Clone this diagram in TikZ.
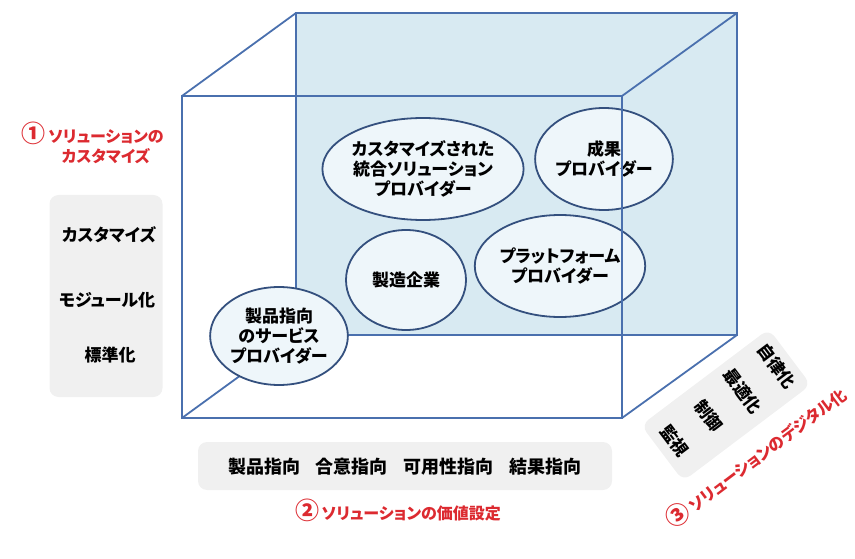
\documentclass[tikz,border=0pt]{standalone}
\usepackage{fontspec}
\newfontfamily\jpfont{Noto Sans CJK JP}[RawFeature=+palt, BoldFont={Noto Sans CJK JP Black}]
\usetikzlibrary{shapes.geometric}
\definecolor{boxline}{HTML}{4A70AE}
\definecolor{backblue}{HTML}{D8EAF2}
\definecolor{rolering}{HTML}{34507E}
\definecolor{rolefill}{HTML}{EEF6FA}
\definecolor{panelgray}{HTML}{F0F0F0}
\definecolor{headred}{HTML}{DC2A30}
\newcommand{\circnum}[1]{{\fontsize{24}{24}\selectfont #1}}

\begin{document}
\begin{tikzpicture}[x=1pt, y=-1pt,
		every node/.style={font=\jpfont\bfseries\fontsize{17}{20}\selectfont, align=center, inner sep=0pt},
		edge/.style={draw=boxline, line width=1.8pt},
		role/.style={ellipse, draw=rolering, line width=1.8pt, fill=rolefill},
		panel/.style={fill=panelgray, rounded corners=9pt},
		heading/.style={text=headred, font=\jpfont\bfseries\fontsize{16}{20}\selectfont}]
		\useasboundingbox (0,0) rectangle (855,559);
		\fill[backblue] (296,13) rectangle (737,335);
		\draw[edge] (296,13) rectangle (737,335);
		\draw[edge] (182,96) -- (296,13) (622,96) -- (737,13) (182,418) -- (296,335) (622,418) -- (737,335);
		\node[role, minimum width=160, minimum height=102] (custom) at (423,169) {カスタマイズされた\\統合ソリューション\\プロバイダー};
		\node[role, minimum width=120, minimum height=102] (outcome) at (604,159) {成果\\プロバイダー};
		\node[role, minimum width=120, minimum height=100] (maker) at (406,280) {製造企業};
		\node[role, minimum width=134, minimum height=102] (platform) at (560,266) {プラットフォーム\\プロバイダー};
		\node[role, minimum width=114, minimum height=98] (service) at (279,336) {製品指向\\のサービス\\プロバイダー};
		\draw[edge] (182,96) rectangle (622,418);
		\node[panel, minimum width=113, minimum height=202] (custpanel) at (106,296) {};
		\node (custlvl3) at (109,235) {カスタマイズ};
		\node (custlvl2) at (107,300) {モジュール化};
		\node (custlvl1) at (110,355) {標準化};
		\node[heading] (axis1) at (106,143) {\llap{\circnum{①}\,}ソリューションの\\カスタマイズ};
		\node[panel, minimum width=414, minimum height=48] (valpanel) at (405,466) {};
		\node[font=\jpfont\bfseries\fontsize{18}{20}\selectfont] (vallvl) at (405,467) {製品指向\hspace{16pt}合意指向\hspace{16pt}可用性指向\hspace{16pt}結果指向};
		\node[heading] (axis2) at (398,510) {\circnum{②}\,ソリューションの価値設定};
		\node[panel, minimum width=160, minimum height=70, rotate=37] (digpanel) at (726,405) {};
		\node[rotate=-53] (diglvl1) at (675,441) {監視};
		\node[rotate=-53] (diglvl2) at (709,416) {制御};
		\node[rotate=-53] (diglvl3) at (743,391) {最適化};
		\node[rotate=-53] (diglvl4) at (777,366) {自律化};
		\node[heading, rotate=37] (axis3) at (755,456) {\circnum{③}\,ソリューションのデジタル化};
	\end{tikzpicture}
\end{document}
